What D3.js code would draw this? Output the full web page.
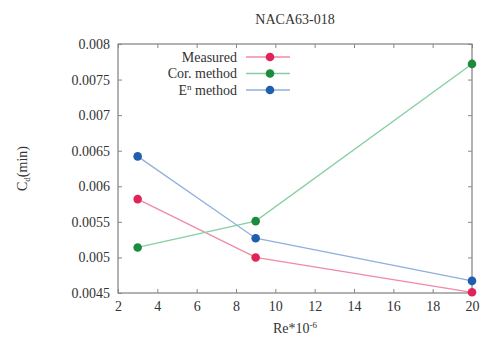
<!DOCTYPE html>
<html>
<head>
<meta charset="utf-8">
<script src="https://cdn.jsdelivr.net/npm/d3@7"></script>
<style>
  body { margin: 0; background: #fff; }
  svg text { font-family: 'Liberation Serif', 'Times New Roman', Times, 'DejaVu Serif', serif !important; fill: #333; }
</style>
</head>
<body>
<svg id="chart" width="483" height="342"></svg>
<script>
const re = [3, 9, 20];
const measured = [0.00582, 0.00500, 0.00451];
const corMethod = [0.00514, 0.00551, 0.00772];
const enMethod = [0.00642, 0.00527, 0.00467];
const xTicks = [2, 4, 6, 8, 10, 12, 14, 16, 18, 20];
const yTicks = [0.0045, 0.005, 0.0055, 0.006, 0.0065, 0.007, 0.0075, 0.008];

const series = [
  { name: 'Measured', values: measured, dot: '#e0245a', line: '#ef8aa5' },
  { name: 'Cor. method', values: corMethod, dot: '#1e8a3e', line: '#86cfa2' },
  { name: 'En', values: enMethod, dot: '#1f5fae', line: '#8fb0dc' }
];

const svg = d3.select('#chart');
const margin = { top: 44, right: 11, bottom: 49, left: 118 };
const W = 483, H = 342;
const w = W - margin.left - margin.right;
const h = H - margin.top - margin.bottom;

const x = d3.scaleLinear().domain([2, 20]).range([0, w]);
const y = d3.scaleLinear().domain([0.0045, 0.008]).range([h, 0]);

const g = svg.append('g').attr('transform', `translate(${margin.left},${margin.top})`);

// frame
g.append('rect').attr('width', w).attr('height', h)
  .attr('fill', 'none').attr('stroke', '#666').attr('stroke-width', 1);

const fmt = d => String(d);

// ticks on all four sides, pointing in
const xb = g.append('g').attr('transform', `translate(0,${h})`)
  .call(d3.axisBottom(x).tickValues(xTicks).tickSize(-4).tickPadding(8).tickFormat(fmt));
const xt = g.append('g')
  .call(d3.axisTop(x).tickValues(xTicks).tickSize(-4).tickFormat(''));
const yl = g.append('g')
  .call(d3.axisLeft(y).tickValues(yTicks).tickSize(-4).tickPadding(8).tickFormat(fmt));
const yr = g.append('g').attr('transform', `translate(${w},0)`)
  .call(d3.axisRight(y).tickValues(yTicks).tickSize(-4).tickFormat(''));

[xb, xt, yl, yr].forEach(a => {
  a.attr('font-family', null);
  a.select('.domain').remove();
  a.selectAll('line').attr('stroke', '#888');
  a.selectAll('text').style('font-size', '14px').attr('fill', '#333');
});

const line = d3.line().x((d, i) => x(re[i])).y(d => y(d));

series.forEach(s => {
  g.append('path').datum(s.values)
    .attr('d', line).attr('fill', 'none')
    .attr('stroke', s.line).attr('stroke-width', 1.3);
});
series.forEach(s => {
  g.selectAll(null).data(s.values).enter().append('circle')
    .attr('cx', (d, i) => x(re[i])).attr('cy', d => y(d))
    .attr('r', 4.3).attr('fill', s.dot);
});

// legend
const leg = g.append('g').attr('transform', 'translate(0,13)');
series.forEach((s, i) => {
  const row = leg.append('g').attr('transform', `translate(0,${i * 16.5})`);
  row.append('line').attr('x1', 128).attr('x2', 172).attr('y1', 0).attr('y2', 0)
    .attr('stroke', s.line).attr('stroke-width', 1.3);
  row.append('circle').attr('cx', 152).attr('cy', 0).attr('r', 4.3).attr('fill', s.dot);
  const t = row.append('text').attr('x', 119).attr('y', 4.5)
    .attr('text-anchor', 'end').style('font-size', '14px');
  if (s.name === 'En') {
    t.append('tspan').text('E');
    t.append('tspan').attr('dy', -5).style('font-size', '9px').text('n');
    t.append('tspan').attr('dy', 5).text(' method');
  } else {
    t.text(s.name);
  }
});

// title
svg.append('text').attr('x', margin.left + w / 2).attr('y', 24)
  .attr('text-anchor', 'middle').style('font-size', '14px').text('NACA63-018');

// x label
const xl = svg.append('text').attr('x', margin.left + w / 2).attr('y', 333)
  .attr('text-anchor', 'middle').style('font-size', '14px');
xl.append('tspan').text('Re*10');
xl.append('tspan').attr('dy', -5).style('font-size', '9px').text('-6');

// y label
const ylab = svg.append('text')
  .attr('transform', `translate(27,${margin.top + h / 2}) rotate(-90)`)
  .attr('text-anchor', 'middle').style('font-size', '14px');
ylab.append('tspan').text('C');
ylab.append('tspan').attr('dy', 3).style('font-size', '9px').text('d');
ylab.append('tspan').attr('dy', -3).text('(min)');
</script>
</body>
</html>
